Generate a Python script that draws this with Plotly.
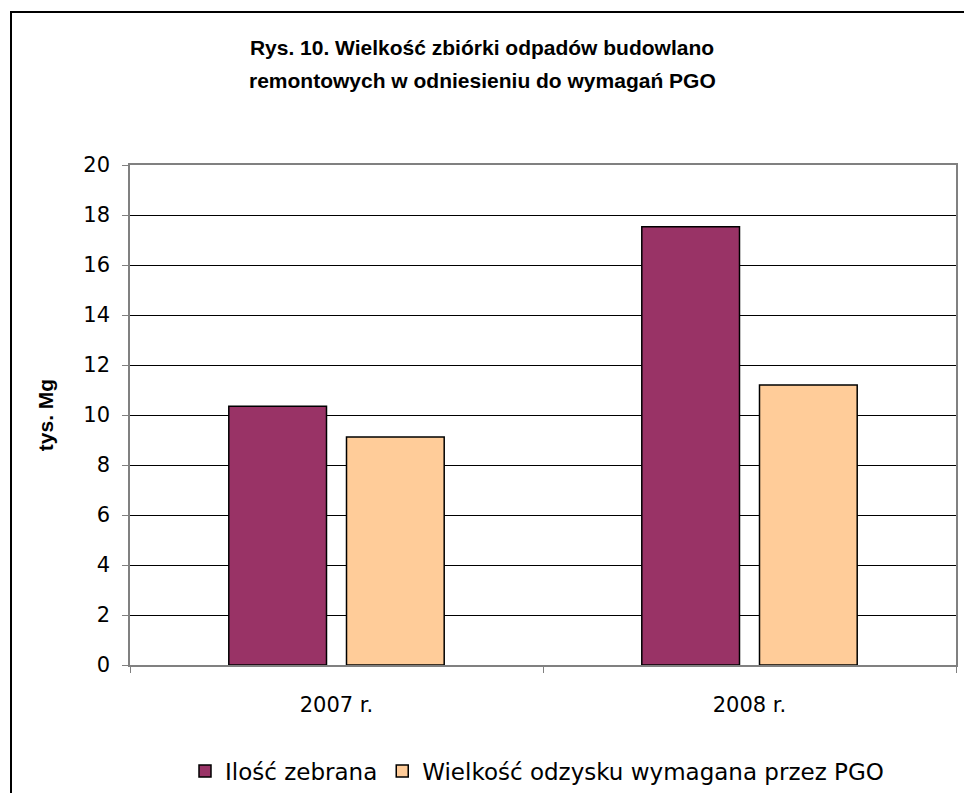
import plotly.graph_objects as go

# Dane (tys. Mg)
years = ['2007 r.', '2008 r.']
collected = [10.35, 17.53]
required_pgo = [9.12, 11.2]

series_names = ['Ilość zebrana', 'Wielkość odzysku wymagana przez PGO']
series_colors = ['#993366', '#FFCC99']

font_family = 'DejaVu Sans, Arial, sans-serif'
title_family = 'Liberation Sans, Arial, sans-serif'

fig = go.Figure()
for name, values, color in zip(series_names, [collected, required_pgo], series_colors):
    fig.add_trace(go.Bar(
        x=years,
        y=values,
        name=name,
        marker_color=color,
        marker_line_color='black',
        marker_line_width=1.5,
    ))

fig.update_layout(
    width=964,
    height=793,
    barmode='group',
    bargap=0.43,
    bargroupgap=0.17,
    margin=dict(l=130, r=8, t=165, b=128, autoexpand=False),
    paper_bgcolor='white',
    plot_bgcolor='white',
    font=dict(family=font_family, color='black', size=21),
    title=dict(
        text='<b>Rys. 10. Wielkość zbiórki odpadów budowlano</b>',
        x=482 / 964,
        xanchor='center',
        y=1 - 48 / 793,
        yanchor='middle',
        font=dict(size=21, family=title_family, color='black'),
    ),
    annotations=[dict(
        text='<b>remontowych w odniesieniu do wymagań PGO</b>',
        xref='paper', yref='paper',
        x=(482 - 130) / 826, y=1 + (165 - 80) / 500,
        xanchor='center', yanchor='middle',
        showarrow=False,
        font=dict(size=21, family=title_family, color='black'),
    )],
    legend=dict(
        orientation='h',
        xref='container',
        x=537 / 964,
        xanchor='center',
        yref='container',
        y=1 - 771 / 793,
        yanchor='middle',
        font=dict(size=23, family=font_family, color='black'),
        itemwidth=30,
        traceorder='normal',
    ),
    shapes=[dict(
        type='rect', xref='paper', yref='paper',
        x0=(11 - 130) / 826, x1=1.1,
        y0=-0.5, y1=1 + (165 - 12) / 500,
        line=dict(color='black', width=2),
        fillcolor='rgba(0,0,0,0)',
    )],
)

fig.update_yaxes(
    range=[0, 20],
    dtick=2,
    showgrid=True,
    gridcolor='black',
    gridwidth=1,
    showline=True,
    linecolor='#808080',
    linewidth=1.5,
    mirror=True,
    ticks='outside',
    ticklen=6,
    tickcolor='#808080',
    ticklabelstandoff=8,
    zeroline=False,
    title=dict(text='<b>tys. Mg</b>', font=dict(size=21, family=title_family), standoff=24),
)

fig.update_xaxes(
    showline=True,
    linecolor='#808080',
    linewidth=1.5,
    mirror=True,
    ticks='outside',
    tickson='boundaries',
    ticklen=6,
    tickcolor='#808080',
    ticklabelstandoff=20,
)

# Bez marginesu strony i bez pasków przewijania.
page_css = (
    "document.body.style.margin='0px';"
    "document.body.style.overflow='hidden';"
    "document.documentElement.style.overflow='hidden';"
)
fig.write_html('out.html', post_script=page_css, config={'displayModeBar': False})
